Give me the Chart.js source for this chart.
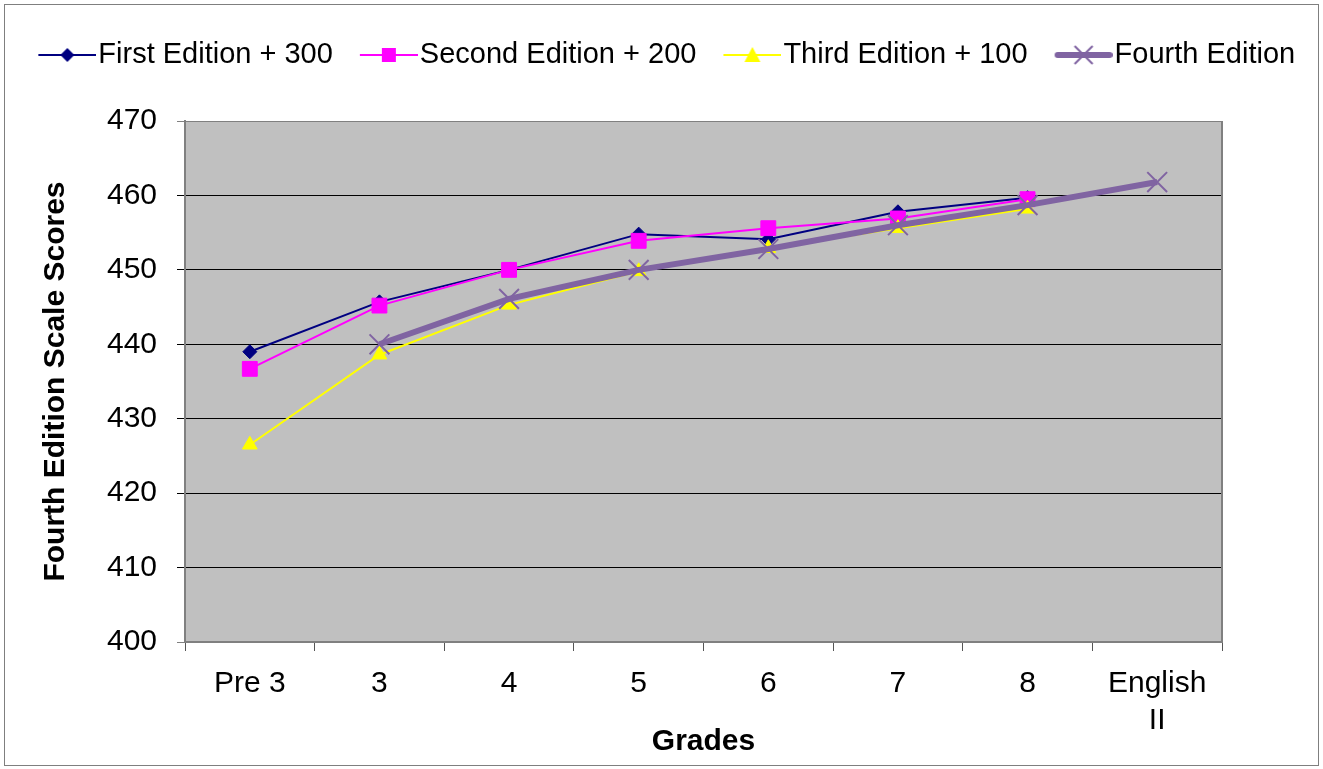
<!DOCTYPE html>
<html>
<head>
<meta charset="utf-8">
<script src="https://cdn.jsdelivr.net/npm/chart.js@4.4.0/dist/chart.umd.min.js"></script>
<style>
  html, body { margin: 0; padding: 0; background: #fff; }
  #wrap { width: 1323px; height: 769px; position: relative; }
</style>
</head>
<body>
<div id="wrap"><canvas id="chart"></canvas></div>
<script>
// categories and values
const grades = ["Pre 3", "3", "4", "5", "6", "7", "8", ["English", "II"]];
const seriesNames = ["First Edition + 300", "Second Edition + 200", "Third Edition + 100", "Fourth Edition"];
const firstEdition = [439.0, 445.7, 450.0, 454.8, 454.1, 457.8, 459.7, null];
const secondEdition = [436.7, 445.2, 450.0, 453.9, 455.6, 456.9, 459.5, null];
const thirdEdition = [426.5, 438.6, 445.3, 449.8, 452.9, 455.6, 458.2, null];
const fourthEdition = [null, 440.0, 446.1, 450.0, 452.8, 456.0, 458.7, 461.8];
const yTicks = [400, 410, 420, 430, 440, 450, 460, 470];

const FONT = "'Liberation Sans', Arial, sans-serif";
Chart.defaults.font.family = FONT;
Chart.defaults.color = "#000";

const NAVY = "#000080";
const MAGENTA = "#FF00FF";
const YELLOW = "#FFFF00";
const PURPLE = "#8064A2";

// legend icons: short line with the marker in the middle,
// drawn at the right end of a wider transparent canvas so it sits next to the text
function makeIcon(color, lineW, marker) {
  const c = document.createElement("canvas");
  c.width = 95;
  c.height = 26;
  const g = c.getContext("2d");
  const x0 = 95 - 58;
  const cy = 13, cx = x0 + 29;
  g.strokeStyle = color;
  g.fillStyle = color;
  g.lineWidth = lineW;
  g.lineCap = lineW > 3 ? "round" : "butt";
  g.beginPath();
  g.moveTo(x0 + (lineW > 3 ? 3 : 0), cy);
  g.lineTo(x0 + (lineW > 3 ? 55 : 58), cy);
  g.stroke();
  g.beginPath();
  if (marker === "diamond") {
    g.moveTo(cx, cy - 7); g.lineTo(cx + 7, cy); g.lineTo(cx, cy + 7); g.lineTo(cx - 7, cy);
    g.closePath(); g.fill();
  } else if (marker === "square") {
    g.fillRect(cx - 7, cy - 7, 14, 14);
  } else if (marker === "triangle") {
    g.moveTo(cx, cy - 8); g.lineTo(cx + 8, cy + 7); g.lineTo(cx - 8, cy + 7);
    g.closePath(); g.fill();
  } else if (marker === "x") {
    g.lineWidth = 2;
    g.lineCap = "butt";
    g.moveTo(cx - 9, cy - 9); g.lineTo(cx + 9, cy + 9);
    g.moveTo(cx + 9, cy - 9); g.lineTo(cx - 9, cy + 9);
    g.stroke();
  }
  return c;
}

const icons = [
  makeIcon(NAVY, 2, "diamond"),
  makeIcon(MAGENTA, 2, "square"),
  makeIcon(YELLOW, 2, "triangle"),
  makeIcon(PURPLE, 6, "x")
];

const plotBg = {
  id: "plotBg",
  beforeDraw(chart) {
    const { ctx, chartArea: a, width, height } = chart;
    ctx.save();
    ctx.fillStyle = "#fff";
    ctx.fillRect(0, 0, width, height);
    ctx.strokeStyle = "#7f7f7f";
    ctx.lineWidth = 1;
    ctx.strokeRect(4.5, 4.5, width - 9, height - 8);
    ctx.fillStyle = "#c0c0c0";
    ctx.fillRect(a.left, a.top, a.right - a.left, a.bottom - a.top);
    ctx.restore();
  },
  beforeDatasetsDraw(chart) {
    const { ctx, chartArea: a } = chart;
    ctx.save();
    ctx.strokeStyle = "#808080";
    ctx.lineWidth = 2;
    ctx.beginPath();
    ctx.moveTo(a.right, a.top);
    ctx.lineTo(a.right, a.bottom);
    ctx.stroke();
    ctx.restore();
  }
};

const legendSize = {
  id: "legendSize",
  beforeInit(chart) {
    const fit = chart.legend.fit;
    chart.legend.fit = function () {
      fit.call(this);
      this.height = 83;
    };
  }
};

new Chart(document.getElementById("chart").getContext("2d"), {
  type: "line",
  data: {
    labels: grades,
    datasets: [
      {
        label: seriesNames[0],
        data: firstEdition,
        borderColor: NAVY,
        backgroundColor: NAVY,
        borderWidth: 2,
        pointStyle: "rectRot",
        pointRadius: 7,
        pointBorderWidth: 1,
        order: 3
      },
      {
        label: seriesNames[1],
        data: secondEdition,
        borderColor: MAGENTA,
        backgroundColor: MAGENTA,
        borderWidth: 2,
        pointStyle: "rect",
        pointRadius: 10.5,
        pointBorderWidth: 1,
        order: 2
      },
      {
        label: seriesNames[2],
        data: thirdEdition,
        borderColor: YELLOW,
        backgroundColor: YELLOW,
        borderWidth: 2,
        pointStyle: "triangle",
        pointRadius: 8.5,
        pointBorderWidth: 1,
        order: 1
      },
      {
        label: seriesNames[3],
        data: fourthEdition,
        borderColor: PURPLE,
        backgroundColor: PURPLE,
        borderWidth: 6,
        pointStyle: "crossRot",
        pointRadius: 14,
        pointBorderWidth: 2,
        order: 0
      }
    ]
  },
  options: {
    responsive: true,
    maintainAspectRatio: false,
    animation: false,
    layout: { padding: { left: 0, right: 14, top: 38, bottom: 0 } },
    elements: { line: { tension: 0, fill: false } },
    plugins: {
      tooltip: { enabled: false },
      legend: {
        position: "top",
        align: "center",
        labels: {
          usePointStyle: true,
          pointStyleWidth: 70,
          padding: 2.5,
          font: { size: 29 },
          color: "#000",
          generateLabels: () => seriesNames.map((name, i) => ({
            text: name,
            pointStyle: icons[i],
            datasetIndex: i,
            hidden: false,
            lineWidth: 0,
            fillStyle: "rgba(0,0,0,0)",
            strokeStyle: "rgba(0,0,0,0)",
            fontColor: "#000"
          }))
        }
      }
    },
    scales: {
      x: {
        offset: true,
        grid: {
          offset: true,
          drawOnChartArea: false,
          drawTicks: true,
          tickLength: 9,
          tickColor: "#555"
        },
        border: { color: "#808080", width: 2 },
        ticks: {
          font: { size: 30, lineHeight: 1.23 },
          color: "#000",
          padding: 14,
          maxRotation: 0,
          autoSkip: false
        },
        title: {
          display: true,
          text: "Grades",
          font: { size: 30, weight: "bold" },
          color: "#000",
          padding: { top: 0, bottom: 9 }
        },
        afterFit: s => { s.height = 127; }
      },
      y: {
        min: 400,
        max: 470,
        afterBuildTicks: s => { s.ticks = yTicks.map(v => ({ value: v })); },
        grid: {
          color: ctx => (ctx.tick && (ctx.tick.value === 400 || ctx.tick.value === 470)) ? "#808080" : "#000",
          lineWidth: 1,
          tickLength: 8
        },
        border: { color: "#808080", width: 2 },
        ticks: {
          font: { size: 30 },
          color: "#000",
          padding: 20
        },
        title: {
          display: true,
          text: "Fourth Edition Scale Scores",
          font: { size: 30, weight: "bold" },
          color: "#000",
          padding: { top: 38, bottom: 0 }
        },
        afterFit: s => { s.width = 185; }
      },
      y2: {
        position: "right",
        display: true,
        grid: { display: false, drawTicks: false },
        border: { display: false },
        ticks: { display: false },
        afterFit: s => { s.width = 87; }
      }
    }
  },
  plugins: [plotBg, legendSize]
});
</script>
</body>
</html>
